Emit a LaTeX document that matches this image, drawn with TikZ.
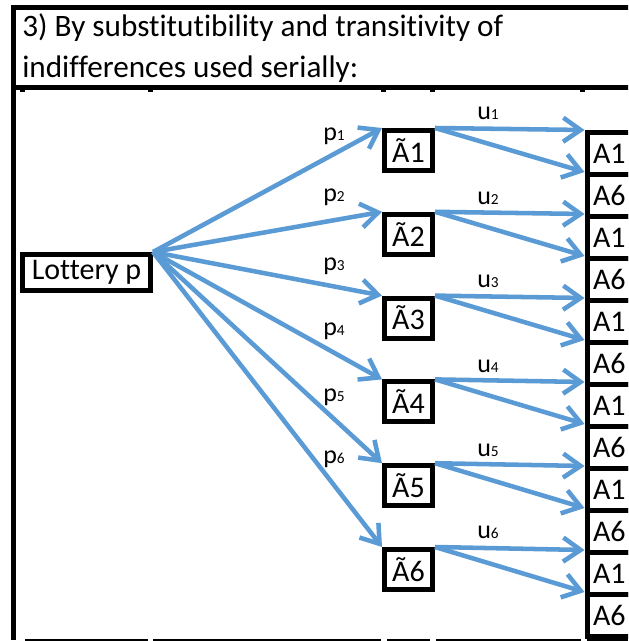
\documentclass[tikz,border=0pt]{standalone}
\usepackage{fontspec}
\setmainfont{Carlito}[Ligatures=NoCommon]
\usetikzlibrary{arrows.meta}
\definecolor{arrowblue}{RGB}{91,155,213}
\newcommand\titlefont{\fontsize{23.4pt}{28pt}\selectfont}
\newcommand\boxfont{\fontsize{22.5pt}{27pt}\selectfont}
\newcommand\labelfont{\fontsize{19.5pt}{23pt}\selectfont}
\newcommand\lblidx[1]{{\fontsize{11.5pt}{13pt}\selectfont #1}}
\begin{document}
\begin{tikzpicture}[x=0.75pt,y=-0.75pt,
  frame/.style={line width=3.75pt},
  box/.style={draw, line width=3.75pt, inner sep=0pt, font=\boxfont},
  tildebox/.style={box, minimum width=36pt, minimum height=30pt},
  cell/.style={box, minimum width=71.25pt, minimum height=31.5pt,
    text width=62.25pt, inner xsep=4.5pt, align=left, anchor=north west},
  link/.style={draw=arrowblue, line width=3.4pt,
    -{Straight Barb[length=13pt,width=18pt]},
    preaction={draw=black!14, transform canvas={shift={(0.9pt,-1.2pt)}}}},
  lbl/.style={anchor=base west, inner sep=0pt, font=\labelfont},
  heading/.style={anchor=base west, inner sep=0pt, font=\titlefont},
]
\useasboundingbox (0,0) rectangle (628,641);
\clip (0,0) rectangle (628,641);

% sheet frame: title cell and the cell holding the tree
\draw[frame] (660,7.5) -- (13.5,7.5) -- (13.5,640);
\draw[frame] (13.5,87.5) -- (660,87.5);

% gridline stubs along the top and bottom of the sheet
\foreach \a/\b in {20/25,148/153,381/386,430/435,580/585}
  \fill (\a,90) rectangle (\b,92.5);
\foreach \a/\b in {25/148,153/381,387/430,436/581,587/628}
  \fill (\a,639.3) rectangle (\b,641);

% heading
\node[heading] (h1) at (22,37) {3) By substitutibility and transitivity of};
\node[heading] (h2) at (22,78) {indifferences used serially:};

% root lottery
\node[box, minimum width=96pt, minimum height=27pt] (lot) at (86.5,272.5) {Lottery p};

% intermediate lotteries
\foreach \i in {1,...,6}
  \node[tildebox] (t\i) at (408.5,{150.5+83.8*(\i-1)}) {Ã\i};

% outcome column
\foreach \k in {0,...,11}{
  \pgfmathtruncatemacro{\odd}{mod(\k,2)}
  \ifnum\odd=0
    \node[cell] (c\k) at (584.5,{130+42*\k}) {A1};
  \else
    \node[cell] (c\k) at (584.5,{130+42*\k}) {A6};
  \fi
}

% branches
\foreach \i in {1,...,6}{
  \pgfmathtruncatemacro{\ka}{2*(\i-1)}
  \pgfmathtruncatemacro{\kb}{2*(\i-1)+1}
  \draw[link] (lot.north east) -- (t\i.north west);
  \draw[link] (t\i.north east) -- (c\ka.north west);
  \draw[link] (t\i.north east) -- (c\kb.north west);
}

% branch labels
\foreach \i/\y in {1/141,2/202,3/270,4/335,5/401,6/463}
  \node[lbl] (p\i) at (323,\y) {p\lblidx{\i}};
\foreach \i/\y in {1/120,2/205,3/287,4/372,5/456,6/538}
  \node[lbl] (u\i) at (477,\y) {u\lblidx{\i}};
\end{tikzpicture}
\end{document}
